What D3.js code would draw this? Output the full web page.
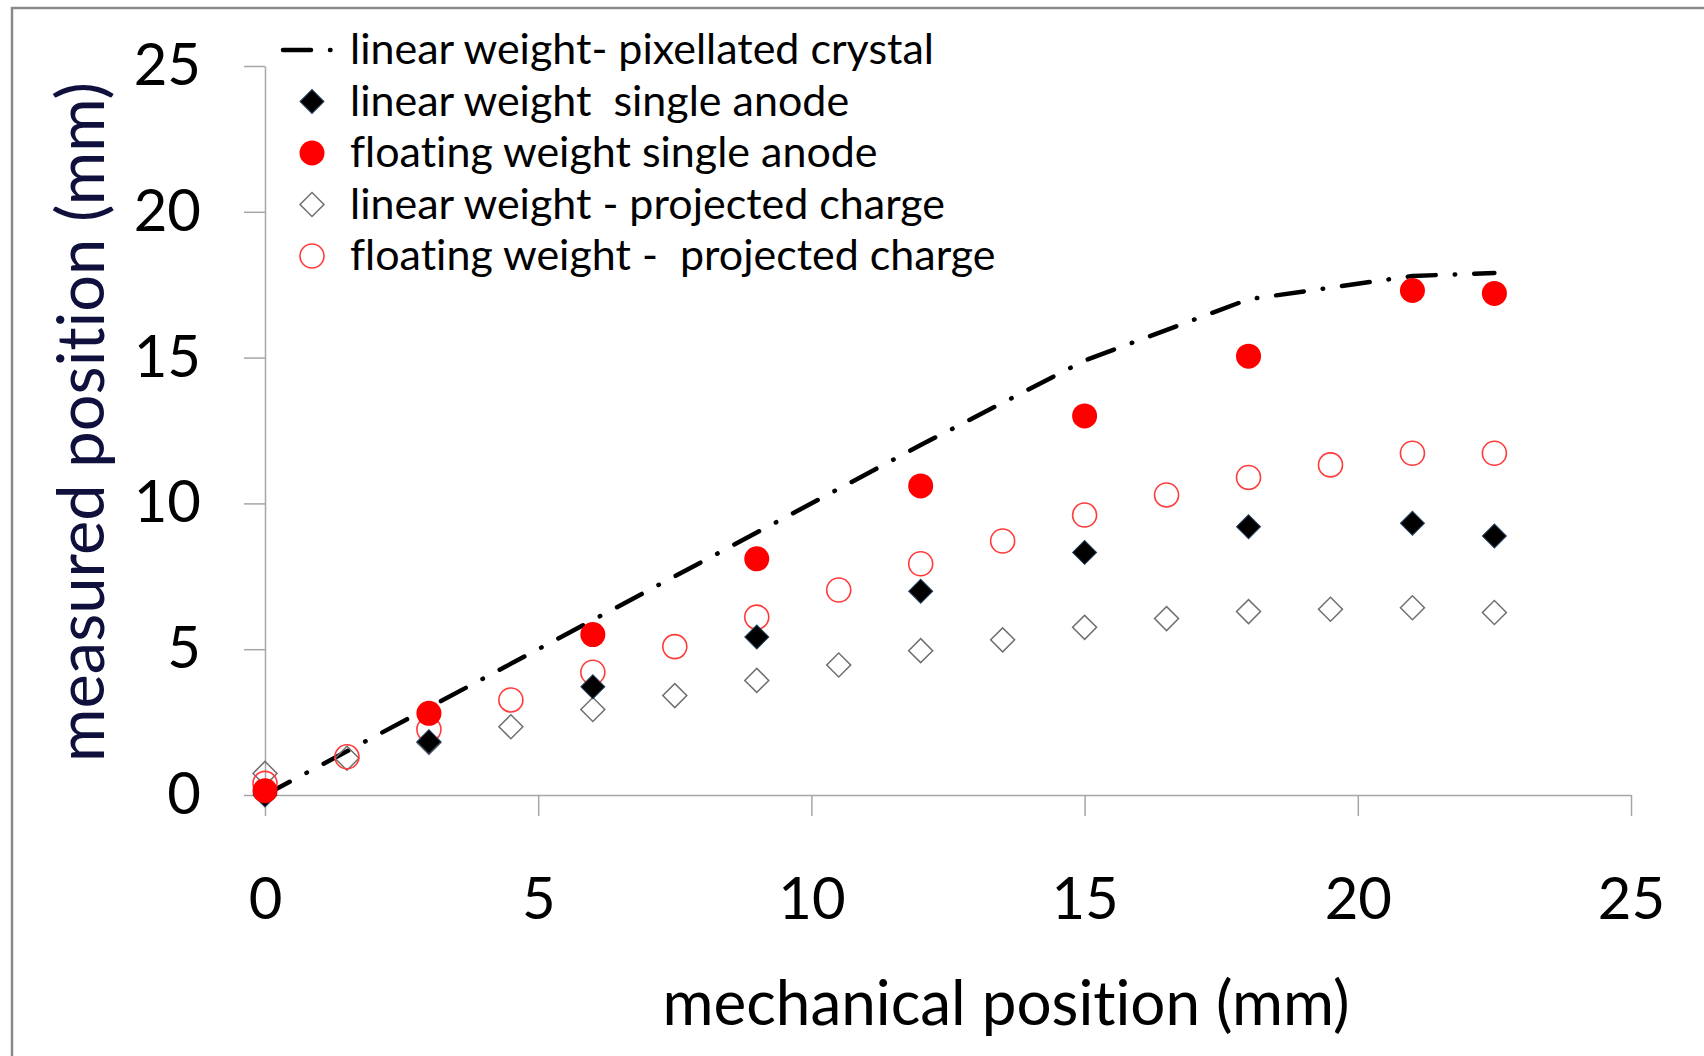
<!DOCTYPE html>
<html>
<head>
<meta charset="utf-8">
<script src="https://cdn.jsdelivr.net/npm/d3@7"></script>
<style>
  html, body { margin: 0; padding: 0; background: #fff; }
  svg { display: block; font-family: Lato, "Open Sans", sans-serif; }
  svg text { font-variant-ligatures: none; font-feature-settings: "liga" 0, "clig" 0, "dlig" 0; }
  .legend text { white-space: pre; }
</style>
</head>
<body>
<svg id="chart" width="1704" height="1056"></svg>
<script>
// Mechanical positions (mm)
const xSingle = [0, 3, 6, 9, 12, 15, 18, 21, 22.5];
const xProjected = [0, 1.5, 3, 4.5, 6, 7.5, 9, 10.5, 12, 13.5, 15, 16.5, 18, 19.5, 21, 22.5];

// Measured positions (mm)
const pixellatedCrystal = [0, 3.0, 6.0, 9.0, 12.0, 14.9, 17.0, 17.8, 17.9];
const linearSingleAnode = [0, 1.83, 3.71, 5.42, 6.99, 8.32, 9.2, 9.32, 8.88];
const floatingSingleAnode = [0.15, 2.8, 5.5, 8.1, 10.6, 13.0, 15.05, 17.3, 17.2];
const linearProjected = [0.74, 1.26, 1.8, 2.34, 2.93, 3.41, 3.93, 4.46, 4.95, 5.32, 5.75, 6.05, 6.29, 6.37, 6.42, 6.26];
const floatingProjected = [0.4, 1.31, 2.25, 3.26, 4.21, 5.09, 6.1, 7.03, 7.93, 8.71, 9.6, 10.29, 10.89, 11.32, 11.72, 11.72];

const tickValues = [0, 5, 10, 15, 20, 25];
const seriesNames = [
  "linear weight- pixellated crystal",
  "linear weight  single anode",
  "floating weight single anode",
  "linear weight - projected charge",
  "floating weight -  projected charge"
];
const xTitle = "mechanical position (mm)";
const yTitle = "measured position (mm)";

const svg = d3.select("#chart");
const W = 1704, H = 1056;
const plot = { left: 265, right: 1631, top: 66, bottom: 795 };

const x = d3.scaleLinear().domain([0, 25]).range([plot.left, plot.right]);
const y = d3.scaleLinear().domain([0, 25]).range([plot.bottom, plot.top]);

// outer frame (left and top edges)
svg.append("path")
  .attr("d", `M12,${H} V8 H${W}`)
  .attr("fill", "none")
  .attr("stroke", "#8a8a8a")
  .attr("stroke-width", 2.5);

const axisColor = "#a6a6a6";

// y axis
const gy = svg.append("g")
  .attr("transform", `translate(${plot.left},0)`)
  .call(d3.axisLeft(y).tickValues(tickValues).tickSize(21).tickSizeOuter(0).tickPadding(43));
// x axis
const gx = svg.append("g")
  .attr("transform", `translate(0,${plot.bottom})`)
  .call(d3.axisBottom(x).tickValues(tickValues).tickSize(21).tickSizeOuter(0).tickPadding(62));

[gx, gy].forEach(g => {
  g.select(".domain").attr("stroke", axisColor).attr("stroke-width", 1.5);
  g.selectAll(".tick line").attr("stroke", axisColor).attr("stroke-width", 1.5);
  g.selectAll(".tick text")
    .attr("fill", "#000")
    .style("font-family", "Lato, sans-serif")
    .style("font-size", "58px");
});

// axis titles
svg.append("text")
  .attr("x", 1006).attr("y", 1025)
  .attr("text-anchor", "middle")
  .style("font-size", "62px")
  .attr("fill", "#000")
  .text(xTitle);

svg.append("text")
  .attr("transform", "translate(104,422) rotate(-90)")
  .attr("text-anchor", "middle")
  .style("font-size", "65px")
  .attr("fill", "#10103c")
  .text(yTitle);

// marker helpers
const diamondPath = d3.symbol(d3.symbolSquare, 288)();
const dashPattern = "28,19,0.5,19";

function drawOpenDiamond(g, cx, cy) {
  g.append("path").attr("d", diamondPath)
    .attr("transform", `translate(${cx},${cy}) rotate(45)`)
    .attr("fill", "none")
    .attr("stroke", "#707070").attr("stroke-width", 1.5);
}
function drawFilledDiamond(g, cx, cy) {
  g.append("path").attr("d", diamondPath)
    .attr("transform", `translate(${cx},${cy}) rotate(45)`)
    .attr("fill", "#000")
    .attr("stroke", "#27405e").attr("stroke-width", 1);
}
function drawOpenCircle(g, cx, cy) {
  g.append("circle").attr("cx", cx).attr("cy", cy).attr("r", 12)
    .attr("fill", "none")
    .attr("stroke", "#ff3b3b").attr("stroke-width", 1.6);
}
function drawFilledCircle(g, cx, cy) {
  g.append("circle").attr("cx", cx).attr("cy", cy).attr("r", 12.5)
    .attr("fill", "#ff0000");
}

// dash-dot reference line
const line = d3.line().x(d => x(d[0])).y(d => y(d[1]));
svg.append("path")
  .datum(d3.zip(xSingle, pixellatedCrystal))
  .attr("d", line)
  .attr("fill", "none")
  .attr("stroke", "#000")
  .attr("stroke-width", 4.5)
  .attr("stroke-linecap", "round")
  .attr("stroke-dasharray", dashPattern);

// scatter series
const marks = svg.append("g");
d3.zip(xProjected, linearProjected).forEach(([a, b]) => drawOpenDiamond(marks, x(a), y(b)));
d3.zip(xProjected, floatingProjected).forEach(([a, b]) => drawOpenCircle(marks, x(a), y(b)));
d3.zip(xSingle, linearSingleAnode).forEach(([a, b]) => drawFilledDiamond(marks, x(a), y(b)));
d3.zip(xSingle, floatingSingleAnode).forEach(([a, b]) => drawFilledCircle(marks, x(a), y(b)));

// legend
const legend = svg.append("g").attr("class", "legend");
const rowY = [50, 101.5, 153, 204.5, 256];
const markerX = 312, textX = 350;

legend.append("line")
  .attr("x1", 283).attr("x2", 336)
  .attr("y1", rowY[0]).attr("y2", rowY[0])
  .attr("stroke", "#000").attr("stroke-width", 4.5)
  .attr("stroke-linecap", "round")
  .attr("stroke-dasharray", dashPattern);
drawFilledDiamond(legend, markerX, rowY[1]);
drawFilledCircle(legend, markerX, rowY[2]);
drawOpenDiamond(legend, markerX, rowY[3]);
drawOpenCircle(legend, markerX, rowY[4]);

legend.selectAll("text.item")
  .data(seriesNames)
  .enter().append("text")
  .attr("class", "item")
  .attr("x", textX)
  .attr("y", (d, i) => rowY[i] + 14)
  .style("font-size", "43px")
  .attr("fill", "#000")
  .text(d => d);
</script>
</body>
</html>
